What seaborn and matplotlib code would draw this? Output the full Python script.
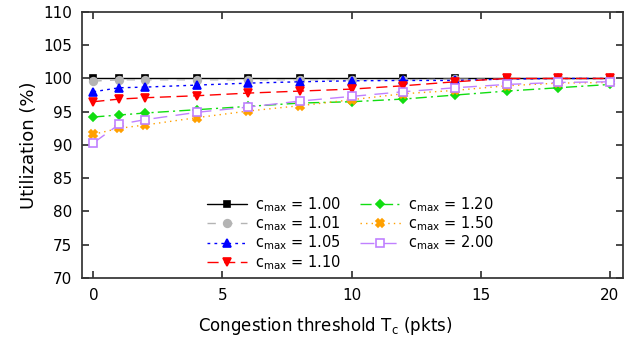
import matplotlib

matplotlib.use("Agg")
import matplotlib.pyplot as plt
import pandas as pd
import seaborn as sns

thresholds = [0, 1, 2, 4, 6, 8, 10, 12, 14, 16, 18, 20]
cmax_labels = ["1.00", "1.01", "1.05", "1.10", "1.20", "1.50", "2.00"]
util_100 = [100.0, 100.0, 100.0, 100.0, 100.0, 100.0, 100.0, 100.0, 100.0, 100.0, 100.0, 100.0]
util_101 = [99.6, 99.8, 99.8, 99.8, 99.8, 99.8, 99.8, 99.8, 99.9, 99.9, 100.0, 100.0]
util_105 = [98.0, 98.6, 98.7, 99.0, 99.3, 99.5, 99.65, 99.7, 99.7, 99.9, 100.0, 100.0]
util_110 = [96.5, 96.9, 97.1, 97.4, 97.8, 98.1, 98.4, 98.9, 99.5, 100.0, 100.0, 100.0]
util_120 = [94.2, 94.5, 94.8, 95.3, 95.8, 96.3, 96.5, 96.9, 97.5, 98.1, 98.6, 99.1]
util_150 = [91.6, 92.5, 93.0, 94.1, 95.1, 95.9, 96.8, 97.7, 98.2, 98.9, 99.3, 99.4]
util_200 = [90.3, 93.1, 93.8, 94.9, 95.7, 96.6, 97.3, 98.0, 98.6, 99.1, 99.4, 99.5]

series = [util_100, util_101, util_105, util_110, util_120, util_150, util_200]
styles = [
    dict(color="black", marker="s", linestyle="-", mfc="black", ms=5),
    dict(color="#b4b4b4", marker="o", linestyle=(0, (6, 6)), mfc="#b4b4b4", ms=5.5),
    dict(color="#0000ff", marker="^", linestyle=(0, (2, 3)), mfc="#0000ff", ms=6),
    dict(color="#ff0000", marker="v", linestyle=(0, (8, 4)), mfc="#ff0000", ms=6),
    dict(color="#11dd11", marker="D", linestyle=(0, (8, 3, 1.5, 3)), mfc="#11dd11", ms=4),
    dict(color="#ffa000", marker="X", linestyle=(0, (1, 3)), mfc="#ffa000", ms=6),
    dict(color="#c080ff", marker="s", linestyle=(0, (10, 6)), mfc="white", ms=5.5),
]

frame = pd.DataFrame(
    {
        "threshold": thresholds * len(series),
        "util": [v for s in series for v in s],
        "cmax": [lab for lab in cmax_labels for _ in thresholds],
    }
)

sns.set_theme(style="ticks")
plt.rcParams["font.family"] = ["DejaVu Sans"]
plt.rcParams["text.color"] = "black"
plt.rcParams["axes.labelcolor"] = "black"
plt.rcParams["xtick.color"] = "#333333"
plt.rcParams["ytick.color"] = "#333333"
plt.rcParams["xtick.labelcolor"] = "black"
plt.rcParams["ytick.labelcolor"] = "black"

fig = plt.figure(figsize=(6.24, 3.43), dpi=100)
ax = fig.add_axes([0.131, 0.19, 0.867, 0.775])

for lab, st in zip(cmax_labels, styles):
    sub = frame[frame["cmax"] == lab]
    sns.lineplot(
        data=sub,
        x="threshold",
        y="util",
        ax=ax,
        color=st["color"],
        marker=st["marker"],
        linestyle=st["linestyle"],
        markerfacecolor=st["mfc"],
        markeredgecolor=st["color"],
        markersize=st["ms"],
        markeredgewidth=1.2,
        linewidth=1.0,
        label=r"c$_{\mathrm{max}}$ = " + lab,
    )

ax.set_xlim(-0.45, 20.5)
ax.set_ylim(70, 110)
ax.set_xticks([0, 5, 10, 15, 20])
ax.set_yticks(range(70, 111, 5))
ax.tick_params(direction="in", top=True, right=True, labelsize=11, length=5, pad=7)
for spine in ax.spines.values():
    spine.set_visible(True)
    spine.set_color("#333333")
ax.set_xlabel(r"Congestion threshold T$_\mathrm{c}$ (pkts)", fontsize=12)
ax.xaxis.set_label_coords(0.45, -0.14)
ax.set_ylabel("Utilization (%)", fontsize=13)

ax.legend(
    loc="upper left",
    bbox_to_anchor=(0.31, 0.47),
    bbox_transform=fig.transFigure,
    ncol=2,
    frameon=False,
    fontsize=10.5,
    handlelength=2.8,
    labelspacing=0.05,
    columnspacing=1.3,
    handletextpad=0.5,
)

fig.savefig("out.png", dpi=100)
